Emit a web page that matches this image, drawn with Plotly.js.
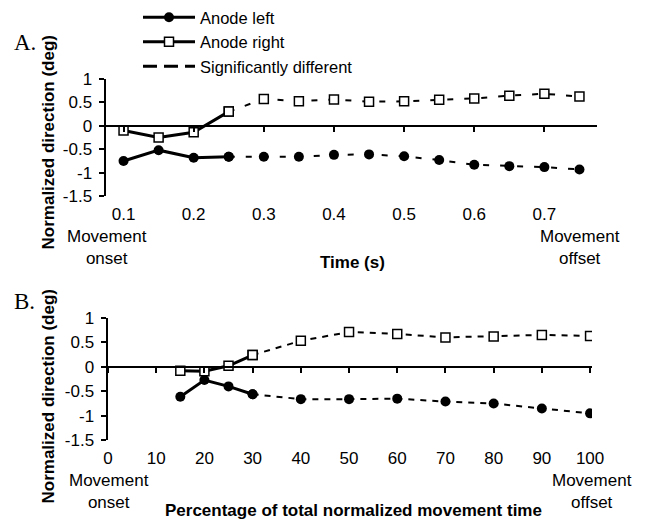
<!DOCTYPE html>
<html><head><meta charset="utf-8">
<script src="https://cdn.plot.ly/plotly-3.0.1.min.js"></script>
<style>html,body{margin:0;padding:0;background:#fff}#chart{width:648px;height:519px}</style>
</head><body><div id="chart"></div>
<script>
// ---------- data ----------
const timeA = [0.1,0.15,0.2,0.25,0.3,0.35,0.4,0.45,0.5,0.55,0.6,0.65,0.7,0.75];
const leftA = [-0.75,-0.52,-0.68,-0.66,-0.66,-0.66,-0.62,-0.61,-0.65,-0.73,-0.83,-0.86,-0.88,-0.93];
const rightA = [-0.1,-0.25,-0.14,0.3,0.57,0.52,0.56,0.51,0.52,0.55,0.58,0.64,0.68,0.62];
const pctB = [15,20,25,30,40,50,60,70,80,90,100];
const leftB = [-0.61,-0.27,-0.40,-0.56,-0.66,-0.66,-0.65,-0.71,-0.75,-0.85,-0.95];
const rightB = [-0.08,-0.09,0.02,0.24,0.53,0.71,0.67,0.60,0.62,0.65,0.63];
const sigStartA = 3;   // index where the "significantly different" (dashed) part begins
const sigStartB = 3;
const xTicksA = [0.1,0.2,0.3,0.4,0.5,0.6,0.7];
const xTickTextA = ['0.1','0.2','0.3','0.4','0.5','0.6','0.7'];
const xTicksB = [0,10,20,30,40,50,60,70,80,90,100];
const xTickTextB = ['0','10','20','30','40','50','60','70','80','90','100'];
const yTicks = [1,0.5,0,-0.5,-1,-1.5];
const yTickText = ['1','0.5','0','-0.5','-1','-1.5'];
const seriesNames = ['Anode left','Anode right','Significantly different'];
const yTitle = 'Normalized direction (deg)';
const xTitleA = 'Time (s)';
const xTitleB = 'Percentage of total normalized movement time';

// ---------- layout helpers ----------
const W = 648, H = 519;
const fx = p => p / W;
const fy = p => 1 - p / H;
const yRange = [-1.5, 1];
const domA = {x:[fx(106), fx(597)], y:[fy(195), fy(77)]};
const domB = {x:[fx(108), fx(592)], y:[fy(440), fy(317)]};
const zeroPos = d => d.y[0] + (0 - yRange[0]) / (yRange[1] - yRange[0]) * (d.y[1] - d.y[0]);
const rangeA = [0.075, 0.775];
const rangeB = [0, 100.4];

const FONT = 'Liberation Sans, Arial, sans-serif';
const solidLine = {color:'#000', width:3};
const dashA = {color:'#000', width:2, dash:'6px,11px'};
const dashB = {color:'#000', width:2, dash:'6px,6px'};
const circ = {symbol:'circle', size:10, color:'#000'};
const sq = {symbol:'square', size:9, color:'#fff', line:{color:'#000', width:1.5}};

function part(arr, solid, start){ return solid ? arr.slice(0, start+1) : arr.slice(start); }

const traces = [
  // Panel A
  {x:part(timeA,false,sigStartA), y:part(leftA,false,sigStartA), xaxis:'x3', yaxis:'y', mode:'lines+markers', line:dashA, marker:circ, showlegend:false},
  {x:part(timeA,false,sigStartA), y:part(rightA,false,sigStartA), xaxis:'x3', yaxis:'y', mode:'lines+markers', line:dashA, marker:sq, showlegend:false},
  {x:part(timeA,true,sigStartA), y:part(leftA,true,sigStartA), xaxis:'x', yaxis:'y', mode:'lines+markers', line:solidLine, marker:circ, name:seriesNames[0]},
  {x:part(timeA,true,sigStartA), y:part(rightA,true,sigStartA), xaxis:'x', yaxis:'y', mode:'lines+markers', line:solidLine, marker:sq, name:seriesNames[1]},
  // legend-only entry for dashed segments
  {x:[null], y:[null], xaxis:'x', yaxis:'y', mode:'lines', line:{color:'#000', width:3, dash:'14px,7px'}, name:seriesNames[2]},
  // Panel B
  {x:part(pctB,false,sigStartB), y:part(leftB,false,sigStartB), xaxis:'x4', yaxis:'y2', mode:'lines+markers', line:dashB, marker:circ, showlegend:false},
  {x:part(pctB,false,sigStartB), y:part(rightB,false,sigStartB), xaxis:'x4', yaxis:'y2', mode:'lines+markers', line:dashB, marker:sq, showlegend:false},
  {x:part(pctB,true,sigStartB), y:part(leftB,true,sigStartB), xaxis:'x2', yaxis:'y2', mode:'lines+markers', line:solidLine, marker:circ, showlegend:false},
  {x:part(pctB,true,sigStartB), y:part(rightB,true,sigStartB), xaxis:'x2', yaxis:'y2', mode:'lines+markers', line:solidLine, marker:sq, showlegend:false}
];

const tickFont = {family:FONT, size:17, color:'#000'};
const labelAxis = (dom, range, vals, text, anchor) => ({
  domain:dom, range:range, anchor:anchor, tickmode:'array', tickvals:vals, ticktext:text,
  showline:false, ticks:'', showgrid:false, zeroline:false, tickfont:tickFont, ticklabelstandoff:6, fixedrange:true
});
const zeroAxis = (range, vals, overlay, pos) => ({
  range:range, overlaying:overlay, anchor:'free', position:pos, tickmode:'array', tickvals:vals,
  showticklabels:false, showline:true, linewidth:2.5, linecolor:'#000', ticks:'outside', ticklen:5, tickwidth:2,
  tickcolor:'#000', showgrid:false, zeroline:false, fixedrange:true
});
const yAxis = (dom, anchor) => ({
  domain:dom, range:yRange, anchor:anchor, tickmode:'array', tickvals:yTicks, ticktext:yTickText,
  showline:true, linewidth:2.5, linecolor:'#000', ticks:'outside', ticklen:5, tickwidth:2, tickcolor:'#000',
  showgrid:false, zeroline:false, tickfont:tickFont, ticklabelstandoff:3, fixedrange:true
});

const titleFont = {family:FONT, size:17, color:'#000', weight:'bold'};
const txt = (text, x, y, extra) => Object.assign({text:text, xref:'paper', yref:'paper', x:fx(x), y:fy(y),
  showarrow:false, xanchor:'center', yanchor:'middle', font:tickFont}, extra || {});

const layout = {
  width:W, height:H, margin:{l:0,r:0,t:0,b:0}, paper_bgcolor:'#fff', plot_bgcolor:'rgba(0,0,0,0)',
  showlegend:true,
  legend:{x:fx(138), y:fy(-2), xanchor:'left', yanchor:'top', bgcolor:'rgba(0,0,0,0)', borderwidth:0,
          font:{family:FONT, size:16.5, color:'#000'}, itemwidth:52, traceorder:'normal'},
  xaxis: labelAxis(domA.x, rangeA, xTicksA, xTickTextA, 'y'),
  xaxis2: labelAxis(domB.x, rangeB, xTicksB, xTickTextB, 'y2'),
  xaxis3: zeroAxis(rangeA, xTicksA, 'x', zeroPos(domA)),
  xaxis4: zeroAxis(rangeB, xTicksB, 'x2', zeroPos(domB)),
  yaxis: yAxis(domA.y, 'x'),
  yaxis2: yAxis(domB.y, 'x2'),
  annotations:[
    txt('A.', 25, 41, {font:{family:'Liberation Serif, Times New Roman, serif', size:23, color:'#000'}}),
    txt('B.', 24, 301, {font:{family:'Liberation Serif, Times New Roman, serif', size:23, color:'#000'}}),
    txt(yTitle, 48, 141, {textangle:-90, font:titleFont}),
    txt(yTitle, 48, 396, {textangle:-90, font:titleFont}),
    txt(xTitleA, 352, 262, {font:titleFont}),
    txt(xTitleB, 353, 510, {font:titleFont}),
    txt('Movement<br>onset', 107, 246),
    txt('Movement<br>offset', 580, 246),
    txt('Movement<br>onset', 109, 491),
    txt('Movement<br>offset', 592, 491)
  ]
};

Plotly.newPlot('chart', traces, layout, {staticPlot:true, displayModeBar:false});
</script></body></html>
